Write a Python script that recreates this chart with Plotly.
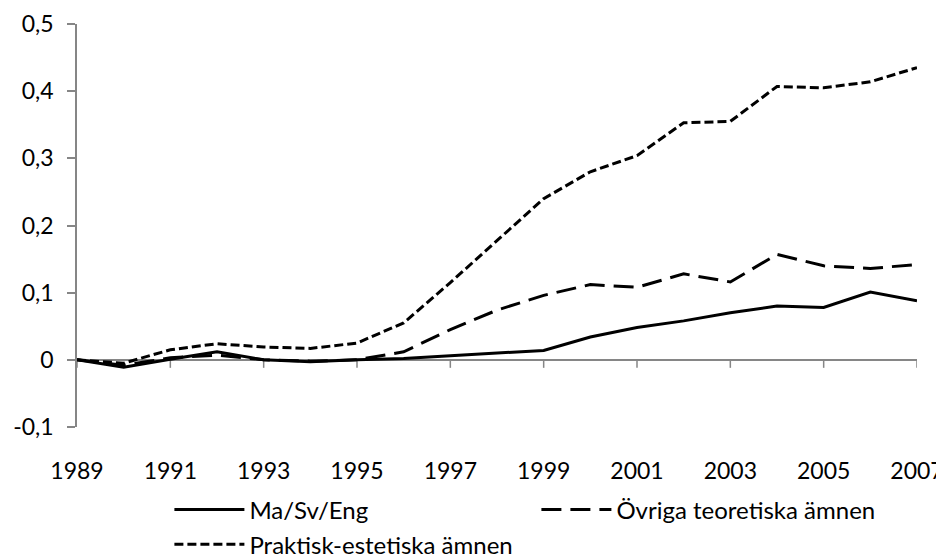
import plotly.graph_objects as go

# ---------------------------------------------------------------------------
# Data
# ---------------------------------------------------------------------------
years = list(range(1989, 2008))

ma_sv_eng = [0.0, -0.011, 0.001, 0.012, 0.0, -0.003, 0.0, 0.002, 0.006, 0.010,
             0.014, 0.034, 0.048, 0.058, 0.070, 0.080, 0.078, 0.101, 0.088]

ovriga_teoretiska = [0.0, -0.008, 0.003, 0.007, 0.0, -0.002, 0.0, 0.012, 0.045, 0.074,
                     0.096, 0.112, 0.108, 0.128, 0.116, 0.157, 0.140, 0.136, 0.142]

praktisk_estetiska = [0.0, -0.005, 0.015, 0.024, 0.019, 0.017, 0.025, 0.055, 0.115, 0.178,
                      0.240, 0.280, 0.304, 0.353, 0.355, 0.407, 0.405, 0.414, 0.435]

series_names = ["Ma/Sv/Eng", "Övriga teoretiska ämnen", "Praktisk-estetiska ämnen"]

x_ticks = list(range(1989, 2008, 2))
y_ticks = [-0.1, 0.0, 0.1, 0.2, 0.3, 0.4, 0.5]
y_tick_labels = ["-0,1", "0", "0,1", "0,2", "0,3", "0,4", "0,5"]

FONT = "Lato"
AXIS_GRAY = "#868686"

fig = go.Figure()

fig.add_trace(go.Scatter(x=years, y=ma_sv_eng, name=series_names[0], mode="lines",
                         line=dict(color="black", width=3), legend="legend"))
fig.add_trace(go.Scatter(x=years, y=ovriga_teoretiska, name=series_names[1], mode="lines",
                         line=dict(color="black", width=3, dash="20px,9px"), legend="legend"))
fig.add_trace(go.Scatter(x=years, y=praktisk_estetiska, name=series_names[2], mode="lines",
                         line=dict(color="black", width=3, dash="9px,4px"), legend="legend2"))

legend_style = dict(
    orientation="h",
    x=0.11, xanchor="left",
    yanchor="top",
    entrywidth=282, entrywidthmode="pixels",
    font=dict(family=FONT, size=24),
    itemwidth=70,
    bgcolor="rgba(0,0,0,0)",
)

# page body adds an 8px offset, so the figure is 8px smaller on each side
fig.update_layout(
    width=936,
    height=550,
    plot_bgcolor="white",
    paper_bgcolor="white",
    font=dict(family=FONT, size=23, color="black"),
    margin=dict(l=69, r=27, t=16, b=131, autoexpand=False),
    showlegend=True,
    legend=dict(legend_style, y=-0.15),
    legend2=dict(legend_style, y=-0.236),
    xaxis=dict(
        range=[1989, 2007],
        tickvals=x_ticks,
        ticks="",
        showline=False,
        showgrid=False,
        zeroline=False,
        ticklabelstandoff=28,
    ),
    yaxis=dict(
        range=[y_ticks[0], y_ticks[-1]],
        tickvals=y_ticks,
        ticktext=y_tick_labels,
        ticks="outside",
        ticklen=8,
        tickcolor=AXIS_GRAY,
        tickwidth=1.5,
        showline=True,
        linecolor=AXIS_GRAY,
        linewidth=1.5,
        showgrid=False,
        zeroline=True,
        zerolinecolor=AXIS_GRAY,
        zerolinewidth=1.5,
        ticklabelstandoff=9,
    ),
)

# tick marks of the horizontal axis, which crosses at y = 0
for yr in x_ticks:
    fig.add_shape(type="line", xref="x", yref="y", ysizemode="pixel", yanchor=0,
                  x0=yr, x1=yr, y0=0, y1=-8,
                  line=dict(color=AXIS_GRAY, width=1.5), layer="below")

fig.write_html("out.html")
